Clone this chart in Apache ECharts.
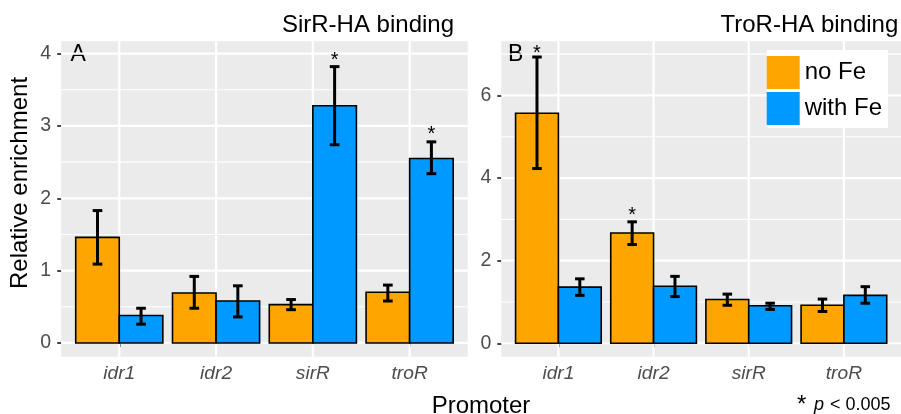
<!DOCTYPE html>
<html><head><meta charset="utf-8">
<script src="https://cdn.jsdelivr.net/npm/echarts@6/dist/echarts.min.js"></script>
<style>html,body{margin:0;padding:0;background:#fff}#c{width:901px;height:414px}</style>
</head><body><div id="c"></div>
<script>
// ---------- data ----------
const categories = ['idr1', 'idr2', 'sirR', 'troR'];
const groups = ['no Fe', 'with Fe'];

// Panel A: SirR-HA binding
const sirNoFe     = [1.46, 0.69, 0.53, 0.70];
const sirNoFeLo   = [1.09, 0.48, 0.46, 0.58];
const sirNoFeHi   = [1.83, 0.92, 0.60, 0.80];
const sirWithFe   = [0.38, 0.58, 3.28, 2.55];
const sirWithFeLo = [0.26, 0.36, 2.74, 2.34];
const sirWithFeHi = [0.48, 0.79, 3.82, 2.78];
const sirStarCat   = ['sirR', 'troR'];
const sirStarGroup = ['with Fe', 'with Fe'];
const sirStarY     = [3.96, 2.94];

// Panel B: TroR-HA binding
const troNoFe     = [5.57, 2.67, 1.06, 0.92];
const troNoFeLo   = [4.23, 2.39, 0.92, 0.77];
const troNoFeHi   = [6.93, 2.94, 1.19, 1.07];
const troWithFe   = [1.36, 1.38, 0.91, 1.16];
const troWithFeLo = [1.16, 1.13, 0.82, 0.97];
const troWithFeHi = [1.56, 1.62, 0.97, 1.37];
const troStarCat   = ['idr1', 'idr2'];
const troStarGroup = ['no Fe', 'no Fe'];
const troStarY     = [7.12, 3.20];

// axis ticks
const xTicks = [1, 2, 3, 4];
const yTicksA = [0, 1, 2, 3, 4];
const yMinorA = [0.5, 1.5, 2.5, 3.5];
const yTicksB = [0, 2, 4, 6];
const yMinorB = [1, 3, 5, 7];

// ---------- style ----------
const FONT = '"Liberation Sans", Arial, Helvetica, sans-serif';
const COLORS = {'no Fe': '#FFA500', 'with Fe': '#0099FF'};
const W = 0.45;         // bar width (category units)
const CAP = 0.05;       // half error-bar cap width

function offsetFor(group) { return group === 'no Fe' ? -W / 2 : W / 2; }

function gridLineSeries(g, values, horizontal, width) {
  return {
    type: 'custom', xAxisIndex: g, yAxisIndex: g, z: 1, silent: true,
    data: values.map(v => horizontal ? [2, v] : [v, 1]),
    encode: {x: 0, y: 1},
    renderItem: (params, api) => {
      const cs = params.coordSys;
      const p = api.coord([api.value(0), api.value(1)]);
      const shape = horizontal
        ? {x1: cs.x, y1: p[1], x2: cs.x + cs.width, y2: p[1]}
        : {x1: p[0], y1: cs.y, x2: p[0], y2: cs.y + cs.height};
      return {type: 'line', shape, style: {stroke: '#FFFFFF', lineWidth: width}};
    }
  };
}

function barSeries(g, group, vals) {
  const color = COLORS[group];
  return {
    type: 'custom', name: group, xAxisIndex: g, yAxisIndex: g, z: 3,
    itemStyle: {color},
    data: vals.map((v, i) => [i + 1, v]),
    encode: {x: 0, y: 1},
    renderItem: (params, api) => {
      const xc = api.value(0) + offsetFor(group);
      const p0 = api.coord([xc - W / 2, api.value(1)]);
      const p1 = api.coord([xc + W / 2, 0]);
      return {type: 'rect',
        shape: {x: p0[0], y: p0[1], width: p1[0] - p0[0], height: p1[1] - p0[1]},
        style: {fill: color, stroke: '#000', lineWidth: 1.6}};
    }
  };
}

function errSeries(g, group, lo, hi) {
  return {
    type: 'custom', xAxisIndex: g, yAxisIndex: g, z: 4, silent: true,
    data: lo.map((l, i) => [i + 1, l, hi[i]]),
    encode: {x: 0, y: [1, 2]},
    renderItem: (params, api) => {
      const xc = api.value(0) + offsetFor(group);
      const a = api.coord([xc, api.value(1)]);
      const b = api.coord([xc, api.value(2)]);
      const l = api.coord([xc - CAP, 0])[0], r = api.coord([xc + CAP, 0])[0];
      const st = {stroke: '#000', lineWidth: 3};
      return {type: 'group', children: [
        {type: 'line', shape: {x1: a[0], y1: a[1], x2: b[0], y2: b[1]}, style: st},
        {type: 'line', shape: {x1: l, y1: a[1], x2: r, y2: a[1]}, style: st},
        {type: 'line', shape: {x1: l, y1: b[1], x2: r, y2: b[1]}, style: st}
      ]};
    }
  };
}

function starSeries(g, cats, grps, ys) {
  return {
    type: 'custom', xAxisIndex: g, yAxisIndex: g, z: 5, silent: true,
    data: cats.map((c, i) => [categories.indexOf(c) + 1 + offsetFor(grps[i]), ys[i]]),
    encode: {x: 0, y: 1},
    renderItem: (params, api) => {
      const p = api.coord([api.value(0), api.value(1)]);
      return {type: 'text', x: p[0], y: p[1] + 4,
        style: {text: '*', fontSize: 20, fontFamily: FONT, fill: '#000', align: 'center', verticalAlign: 'middle'}};
    }
  };
}

function xAxisFor(g) {
  return {
    type: 'value', gridIndex: g, min: 0.4, max: 4.6,
    axisLine: {show: false}, splitLine: {show: false},
    axisTick: {show: true, customValues: xTicks, length: 4, lineStyle: {color: '#333333', width: 1.8}},
    axisLabel: {customValues: xTicks, formatter: v => categories[Math.round(v) - 1],
      fontStyle: 'italic', color: '#4D4D4D', fontSize: 19.2, fontFamily: FONT, margin: 7}
  };
}
function yAxisFor(g, min, max, ticks) {
  return {
    type: 'value', gridIndex: g, min, max,
    axisLine: {show: false}, splitLine: {show: false},
    axisTick: {show: true, customValues: ticks, length: 4, lineStyle: {color: '#333333', width: 1.8}},
    axisLabel: {customValues: ticks, color: '#4D4D4D', fontSize: 19.5, fontFamily: FONT, margin: 10}
  };
}

const txt = (x, y, text, size, extra) => ({type: 'text', x, y, silent: true,
  style: Object.assign({text, fontSize: size, fontFamily: FONT, fill: '#000', align: 'left', verticalAlign: 'middle'}, extra || {})});

const option = {
  animation: false,
  backgroundColor: '#FFFFFF',
  grid: [
    {left: 61.2, top: 41.3, width: 406.5, height: 315.4, show: true, backgroundColor: '#EBEBEB', borderWidth: 0},
    {left: 501.3, top: 41.3, width: 406, height: 315.4, show: true, backgroundColor: '#EBEBEB', borderWidth: 0}
  ],
  xAxis: [xAxisFor(0), xAxisFor(1)],
  yAxis: [yAxisFor(0, -0.19, 4.17, yTicksA), yAxisFor(1, -0.325, 7.31, yTicksB)],
  legend: {
    data: groups, orient: 'vertical', left: 766.7, top: 50,
    itemWidth: 33, itemHeight: 33, itemGap: 3, padding: [6, 6, 3, 0],
    backgroundColor: '#FFFFFF', icon: 'rect', selectedMode: false,
    textStyle: {fontSize: 24, fontFamily: FONT, color: '#000'}
  },
  series: [
    gridLineSeries(0, yMinorA, true, 1.1), gridLineSeries(0, yTicksA, true, 2.2), gridLineSeries(0, xTicks, false, 2.2),
    gridLineSeries(1, yMinorB, true, 1.1), gridLineSeries(1, yTicksB, true, 2.2), gridLineSeries(1, xTicks, false, 2.2),
    barSeries(0, 'no Fe', sirNoFe), barSeries(0, 'with Fe', sirWithFe),
    errSeries(0, 'no Fe', sirNoFeLo, sirNoFeHi), errSeries(0, 'with Fe', sirWithFeLo, sirWithFeHi),
    starSeries(0, sirStarCat, sirStarGroup, sirStarY),
    barSeries(1, 'no Fe', troNoFe), barSeries(1, 'with Fe', troWithFe),
    errSeries(1, 'no Fe', troNoFeLo, troNoFeHi), errSeries(1, 'with Fe', troWithFeLo, troWithFeHi),
    starSeries(1, troStarCat, troStarGroup, troStarY)
  ],
  graphic: [
    txt(454, 25, 'SirR-HA binding', 24, {align: 'right'}),
    txt(898.3, 25, 'TroR-HA binding', 24, {align: 'right'}),
    txt(70.5, 55, 'A', 23),
    txt(508, 55, 'B', 23),
    Object.assign(txt(20.5, 183, 'Relative enrichment', 24, {align: 'center'}), {rotation: Math.PI / 2}),
    txt(481, 406.5, 'Promoter', 24, {align: 'center'}),
    txt(797, 405, '*', 24),
    txt(814, 405, 'p', 18, {fontStyle: 'italic'}),
    txt(830, 405, '< 0.005', 18)
  ]
};
const chart = echarts.init(document.getElementById('c'), null, {renderer: 'canvas'});
chart.setOption(option);
</script></body></html>
